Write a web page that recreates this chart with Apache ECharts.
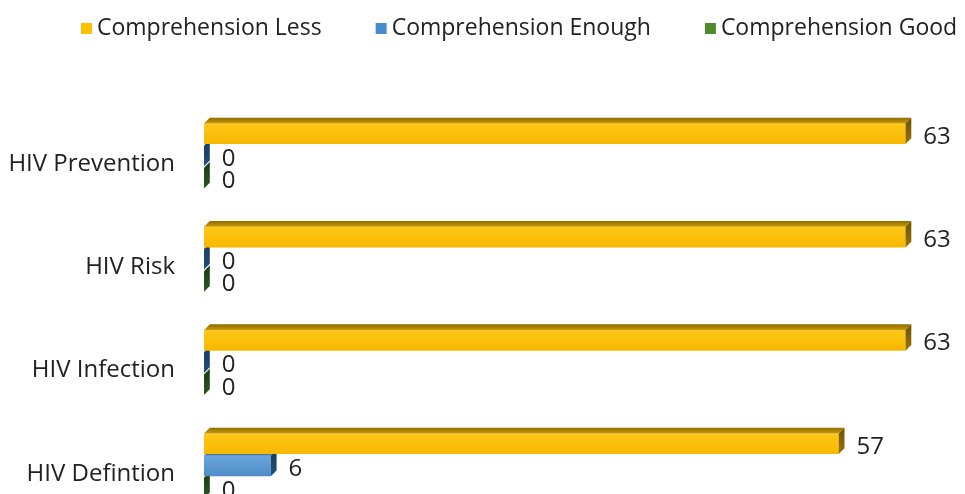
<!DOCTYPE html>
<html><head><meta charset="utf-8">
<script src="https://cdn.jsdelivr.net/npm/echarts@6/dist/echarts.min.js"></script>
<style>html,body{margin:0;padding:0;background:#fff}#c{width:965px;height:494px}</style>
</head><body><div id="c"></div>
<script>
const categories = ['HIV Prevention', 'HIV Risk', 'HIV Infection', 'HIV Defintion'];
const seriesNames = ['Comprehension Less', 'Comprehension Enough', 'Comprehension Good'];
const lessValues = [63, 63, 63, 57];
const enoughValues = [0, 0, 0, 6];
const goodValues = [0, 0, 0, 0];

const FONT = 'Open Sans';
const palettes = [
  {front: ['#FFC718', '#F7B800'], top: ['#8F6C00', '#C99A05'], side: ['#6E5200', '#9A7400'], legend: '#FFC000'},
  {front: ['#6AA6DC', '#4F8CC6'], top: ['#2E5E8C', '#4A7FB3'], side: ['#173B5E', '#234F7A'], legend: '#4A8CCB'},
  {front: ['#7DB552', '#5E9A3A'], top: ['#2F4F1B', '#4C7A30'], side: ['#1E3A12', '#2F5520'], legend: '#4E8A2E'}
];

function grad(c) {
  return new echarts.graphic.LinearGradient(0, 0, 0, 1, [{offset: 0, color: c[0]}, {offset: 1, color: c[1]}]);
}

function makeRender(k) {
  const p = palettes[k];
  return function (params, api) {
    const v = api.value(0);
    const ci = api.value(1);
    const base = api.coord([0, ci]);
    const end = api.coord([v, ci]);
    const band = api.size([0, 1])[1];
    const slot = band * 0.2145;
    const h = slot * 0.93;
    const d = band * 0.056;
    const cy = base[1] + (k - 1) * slot;
    const x0 = base[0], x1 = end[0];
    const y0 = cy - h / 2, y1 = cy + h / 2;
    const children = [];
    if (x1 > x0) {
      children.push({type: 'rect', shape: {x: x0, y: y0, width: x1 - x0, height: h}, style: {fill: grad(p.front)}});
      children.push({type: 'polygon', shape: {points: [[x0, y0], [x0 + d, y0 - d], [x1 + d, y0 - d], [x1, y0]]}, style: {fill: grad(p.top)}});
    }
    children.push({type: 'polygon', shape: {points: [[x1, y0], [x1 + d, y0 - d], [x1 + d, y1 - d], [x1, y1]]}, style: {fill: grad(p.side)}});
    children.push({type: 'text', style: {text: String(v), x: x1 + d + 12, y: cy + 3, align: 'left', verticalAlign: 'middle', fill: '#222', font: '24px "' + FONT + '"'}});
    return {type: 'group', children: children};
  };
}

const allValues = [lessValues, enoughValues, goodValues];
const series = allValues.map((vals, k) => ({
  type: 'custom',
  name: seriesNames[k],
  color: palettes[k].legend,
  z: 10 - k,
  renderItem: makeRender(k),
  encode: {x: 0, y: 1},
  data: vals.map((v, i) => [v, i])
}));

const chart = echarts.init(document.getElementById('c'));
chart.setOption({
  animation: false,
  backgroundColor: '#fff',
  textStyle: {fontFamily: FONT},
  legend: {
    data: seriesNames,
    top: 12, left: 76,
    icon: 'rect', itemWidth: 11, itemHeight: 11, itemGap: 54,
    textStyle: {fontFamily: FONT, fontSize: 23, color: '#222'}
  },
  grid: {left: 204, top: 104.3, width: 701.5, height: 413.3, containLabel: false, outerBoundsMode: 'none'},
  xAxis: {type: 'value', min: 0, max: 63, show: false},
  yAxis: {
    type: 'category', data: categories, inverse: true,
    axisLine: {show: false}, axisTick: {show: false}, splitLine: {show: false},
    axisLabel: {margin: 29, fontFamily: FONT, fontSize: 24, color: '#222', verticalAlign: 'top', lineHeight: 16}
  },
  series: series
});
</script></body></html>
